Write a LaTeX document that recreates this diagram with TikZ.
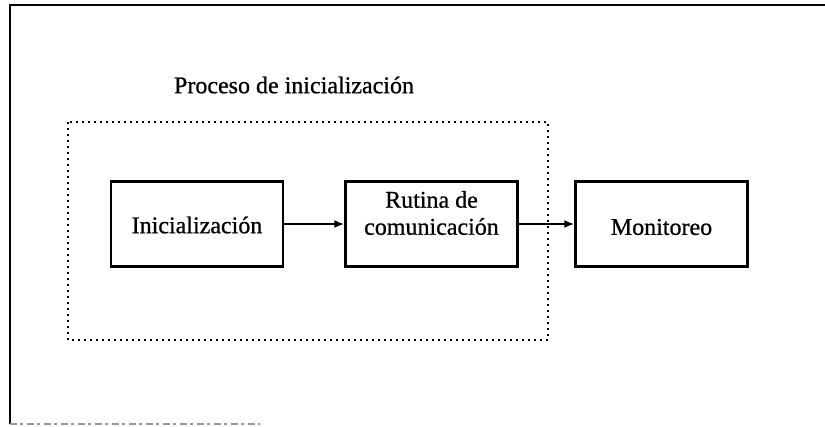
\documentclass[tikz,border=0pt]{standalone}
\usepackage{fontspec}
\setmainfont{Liberation Serif}[FakeBold=0.8]
\usetikzlibrary{arrows.meta}
\begin{document}
\begin{tikzpicture}[x=1pt,y=-1pt,
  blk/.style={draw,line width=2.3pt,minimum width=172pt,minimum height=85pt,inner sep=0pt},
  lbl/.style={font=\fontsize{24}{27}\selectfont,align=center,inner sep=0pt},
  conn/.style={line width=2pt,-{Latex[length=10pt,width=8pt]}},
  frame/.style={line width=2.2pt},
  group/.style={line width=1.8pt,dash pattern=on 1.8pt off 4.2pt}]
\useasboundingbox (0,0) rectangle (825,426);
% outer frame
\coordinate (ftr) at (825,5);
\coordinate (ftl) at (10,5);
\coordinate (fbl) at (10,424);
\coordinate (fbr) at (260,424);
\draw[frame] (ftr) -- (ftl) -- (fbl);
\draw[line width=1.4pt,gray!80,dash pattern=on 7pt off 3pt on 3pt off 4pt] (fbl) -- (fbr);
% group
\draw[group] (68,122) rectangle (548,340);
\node[lbl] (title) at (294,85) {Proceso de inicialización};
% blocks
\node[blk] (ini) at (197,224) {};
\node[lbl] (initxt) at (197,225) {Inicialización};
\node[blk] (rut) at (431.5,224) {};
\node[lbl] (ruttxt) at (431.5,213) {Rutina de\\comunicación};
\node[blk] (mon) at (661.5,224) {};
\node[lbl] (montxt) at (661.5,227) {Monitoreo};
% connectors
\draw[conn] (ini) -- (rut);
\draw[conn] (rut) -- (mon);
\end{tikzpicture}
\end{document}
